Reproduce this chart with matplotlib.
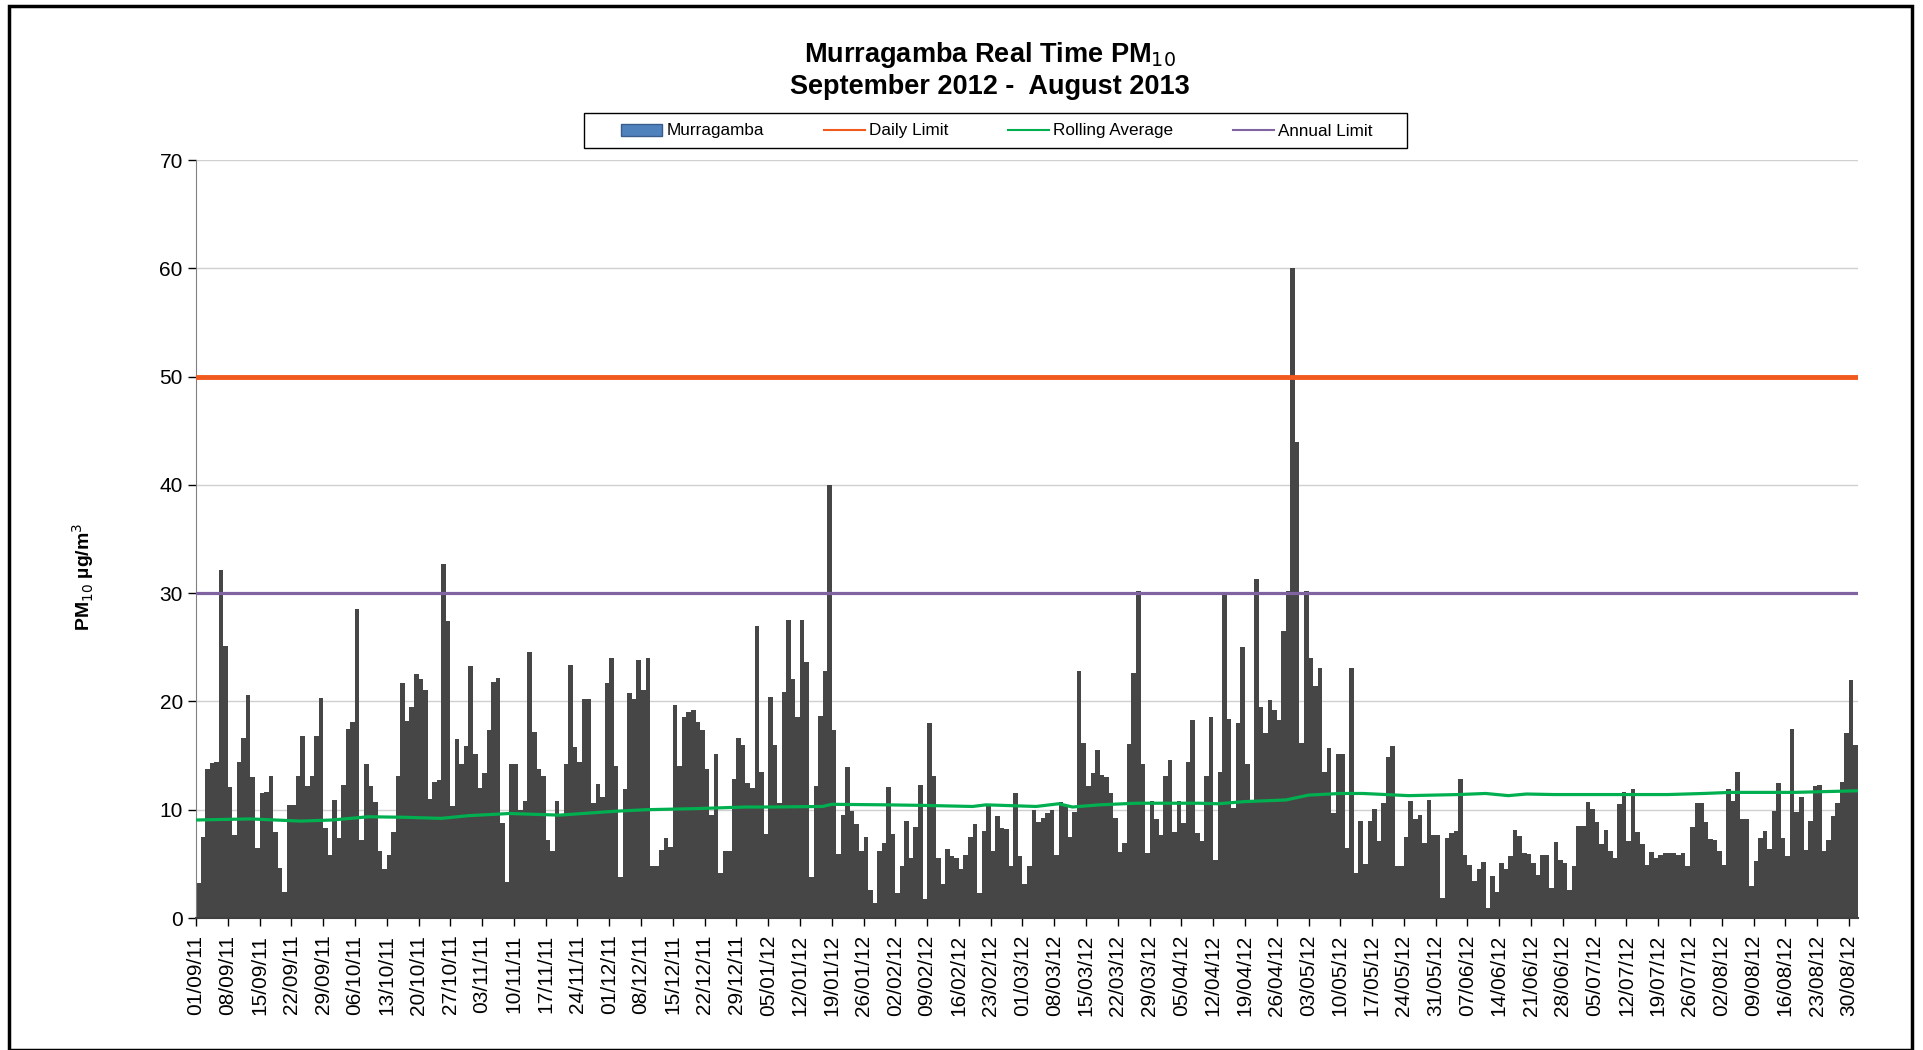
import matplotlib
matplotlib.use("Agg")
import matplotlib.pyplot as plt
from matplotlib.patches import Patch, Rectangle
from matplotlib.lines import Line2D
import pandas as pd
import numpy as np
import warnings
warnings.filterwarnings("ignore")

# === daily PM10 values, 01/09/11 .. 31/08/12 ===
pm10_sep_oct = [3.2, 7.5, 13.75, 14.3, 14.4, 32.1, 25.1, 12.1, 7.7, 14.4, 16.6, 20.6, 13.0, 6.5,
                11.5, 11.6, 13.1, 7.9, 4.6, 2.4, 10.4, 10.4, 13.1, 16.8, 12.2, 13.1, 16.8, 20.3,
                8.3, 5.8, 10.9, 7.4, 12.3, 17.5, 18.1, 28.5, 7.2, 14.2, 12.2, 10.7, 6.2, 4.5,
                5.8, 7.9, 13.1, 21.7]
pm10_oct_dec = [18.2, 19.5, 22.5, 22.1, 21.1, 11.0, 12.6, 12.7, 32.7, 27.4, 10.3, 16.5, 14.2,
                15.9, 23.3, 15.1, 12.0, 13.4, 17.4, 21.75, 22.2, 8.8, 3.3, 14.2, 14.2, 10.0,
                10.8, 24.6, 17.2, 13.8, 13.1, 7.2, 6.2, 10.8, 9.4, 14.2, 23.4, 15.8, 14.4,
                20.2, 20.2, 10.6, 12.4, 11.2, 21.7, 24.0]
pm10_dec_jan = [14.0, 3.8, 11.9, 20.8, 20.2, 23.8, 21.1, 24.0, 4.8, 4.8, 6.3, 7.4, 6.6, 19.7,
                14.0, 18.55, 19.0, 19.2, 18.1, 17.4, 13.75, 9.5, 15.1, 4.15, 6.2, 6.2, 12.8,
                16.6, 16.0, 12.5, 12.0, 27.0, 13.5, 7.8, 20.4, 16.0, 10.6, 20.9, 27.5, 22.1,
                18.6, 27.5, 23.6, 3.8, 12.2, 18.7, 22.8]
pm10_jan_mar = [40.0, 17.4, 5.9, 9.5, 13.9, 9.9, 8.7, 6.2, 7.5, 2.55, 1.4, 6.2, 6.9, 12.1, 7.8,
                2.3, 4.8, 9.0, 5.5, 8.4, 12.3, 1.8, 18.0, 13.1, 5.5, 3.1, 6.4, 5.7, 5.5, 4.5,
                5.8, 7.5, 8.7, 2.3, 8.0, 10.55, 6.2, 9.45, 8.3, 8.25, 4.8, 11.5, 5.75, 3.1,
                4.8, 10.0]
pm10_mar_apr = [8.9, 9.2, 9.7, 10.0, 5.8, 10.7, 10.3, 7.5, 9.75, 22.8, 16.2, 12.15, 13.4, 15.5,
                13.2, 13.0, 11.5, 9.2, 6.1, 6.9, 16.1, 22.6, 30.2, 14.2, 6.0, 10.8, 9.1, 7.7,
                13.1, 14.55, 7.9, 10.8, 8.8, 14.4, 18.25, 7.85, 7.1, 13.1, 18.55, 5.4, 13.5,
                29.8, 18.4, 10.2, 18.0, 25.0]
pm10_apr_jun = [14.2, 10.8, 31.3, 19.5, 17.1, 20.15, 19.2, 18.3, 26.55, 30.2, 60.0, 44.0, 16.2,
                30.2, 24.0, 21.4, 23.1, 13.5, 15.7, 9.7, 15.1, 15.1, 6.5, 23.1, 4.15, 9.0, 5.0,
                9.0, 10.1, 7.1, 10.6, 14.9, 15.9, 4.8, 4.8, 7.5, 10.8, 9.1, 9.5, 6.9, 10.9,
                7.7, 7.7, 1.85, 7.4, 7.85]
pm10_jun_jul = [8.0, 12.8, 5.85, 4.9, 3.4, 4.5, 5.2, 0.9, 3.85, 2.4, 5.1, 4.5, 5.7, 8.15, 7.6,
                6.0, 5.9, 5.1, 4.0, 5.85, 5.85, 2.8, 7.0, 5.4, 5.1, 2.55, 4.8, 8.5, 8.5, 10.7,
                10.1, 8.9, 6.8, 8.15, 6.15, 5.5, 10.5, 11.6, 7.1, 11.9, 7.9, 6.8, 4.9, 6.1,
                5.5, 5.85, 6.0]
pm10_jul_aug = [6.0, 6.0, 5.85, 6.0, 4.8, 8.4, 10.6, 10.6, 8.9, 7.3, 7.2, 6.15, 4.9, 11.9, 10.8,
                13.5, 9.1, 9.1, 3.0, 5.3, 7.4, 8.0, 6.4, 9.85, 12.45, 7.4, 5.7, 17.5, 9.75,
                11.2, 6.3, 9.0, 12.2, 12.3, 6.15, 7.2, 9.4, 10.6, 12.6, 17.1, 22.0, 16.0]

pm10 = (pm10_sep_oct + pm10_oct_dec + pm10_dec_jan + pm10_jan_mar +
        pm10_mar_apr + pm10_apr_jun + pm10_jun_jul + pm10_jul_aug)

# rolling average, read at points along the green line (day index, value)
rolling_day = [0, 12, 23, 30, 38, 46, 54, 60, 69, 80, 92, 99, 110, 121, 127, 138, 140, 152,
               160, 171, 174, 185, 190, 193, 199, 207, 221, 225, 231, 240, 245, 252, 257,
               267, 278, 284, 289, 293, 299, 324, 332, 338, 352, 366]
rolling_val = [9.05, 9.15, 8.95, 9.05, 9.35, 9.3, 9.2, 9.45, 9.65, 9.5, 9.85, 10.0, 10.1,
               10.25, 10.25, 10.3, 10.5, 10.45, 10.4, 10.3, 10.45, 10.3, 10.55, 10.25, 10.45,
               10.6, 10.6, 10.55, 10.75, 10.9, 11.35, 11.5, 11.5, 11.3, 11.4, 11.5, 11.3,
               11.45, 11.4, 11.4, 11.5, 11.6, 11.6, 11.75]

daily_limit = 50
annual_limit = 30

start_date = "2011-09-01"
tick_dates = pd.date_range(start_date, "2012-08-30", freq="7D")
tick_labels = tick_dates.strftime("%d/%m/%y")

# === Plot ===
W, H = 1924, 1050
fig = plt.figure(figsize=(W / 100, H / 100), dpi=100)
narrow = ["Liberation Sans Narrow", "Liberation Sans", "DejaVu Sans"]

ax = fig.add_axes([196 / W, 1 - 918 / H, (1858 - 196) / W, (918 - 160) / H])

days = np.arange(len(pm10))
ax.bar(days, pm10, width=1.0, align="edge", color="#464646", linewidth=0, zorder=2)
ax.axhline(daily_limit, color="#F05A1E", linewidth=3.5, zorder=3)
ax.axhline(annual_limit, color="#8064A2", linewidth=2.3, zorder=3)
ax.plot(rolling_day, rolling_val, color="#00B050", linewidth=2.3, zorder=4)

ax.set_xlim(0, len(pm10))
ax.set_ylim(0, 70)
ax.set_yticks(range(0, 71, 10))
ax.yaxis.grid(True, color="#D0D0D0", linewidth=1)
ax.set_axisbelow(True)

tick_pos = [(d - pd.Timestamp(start_date)).days for d in tick_dates]
ax.set_xticks(tick_pos)
ax.set_xticklabels(tick_labels, rotation=90, family=narrow, fontsize=15)
for lab in ax.get_yticklabels():
    lab.set_family(["Liberation Sans", "DejaVu Sans"])
    lab.set_fontsize(15)
ax.tick_params(axis="both", direction="out", length=6, width=1, colors="black")
ax.tick_params(axis="x", pad=6)

for s in ["top", "right"]:
    ax.spines[s].set_visible(False)
ax.spines["left"].set_color("#808080")
ax.spines["bottom"].set_color("#404040")
ax.spines["bottom"].set_linewidth(1.5)

ax.set_ylabel("PM$_{10}$ µg/m$^3$", fontsize=14, fontweight="bold", family=narrow,
              labelpad=0)
ax.yaxis.set_label_coords(-(196 - 96) / (1858 - 196), 0.45)

fig.text(990 / W, 1 - 55 / H, "Murragamba Real Time PM$_{10}$", ha="center", va="center",
         fontsize=19.5, fontweight="bold", family=narrow)
fig.text(990 / W, 1 - 87 / H, "September 2012 -  August 2013", ha="center", va="center",
         fontsize=19.5, fontweight="bold", family=narrow)

handles = [Patch(facecolor="#4F81BD", edgecolor="#385D8A"),
           Line2D([], [], color="#F05A1E", linewidth=1.5),
           Line2D([], [], color="#00B050", linewidth=1.5),
           Line2D([], [], color="#8064A2", linewidth=1.5)]
labels = ["Murragamba", "Daily Limit", "Rolling Average", "Annual Limit"]
leg = fig.legend(handles, labels, loc="center", ncol=4, frameon=False,
                 bbox_to_anchor=(997 / W, 1 - 131 / H),
                 prop={"family": narrow, "size": 12.3}, handlelength=2.4,
                 handletextpad=0.25, columnspacing=3.5)
# legend box
fig.patches.append(Rectangle((584 / W, 1 - 148 / H), (1407 - 584) / W, 35 / H,
                             transform=fig.transFigure, fill=False, edgecolor="black",
                             linewidth=1.0))

# outer chart border
fig.patches.append(Rectangle((9 / W, 0), (1912 - 9) / W, 1 - 6 / H, transform=fig.transFigure,
                             fill=False, edgecolor="black", linewidth=2.5))

fig.savefig("out.png", dpi=100)
